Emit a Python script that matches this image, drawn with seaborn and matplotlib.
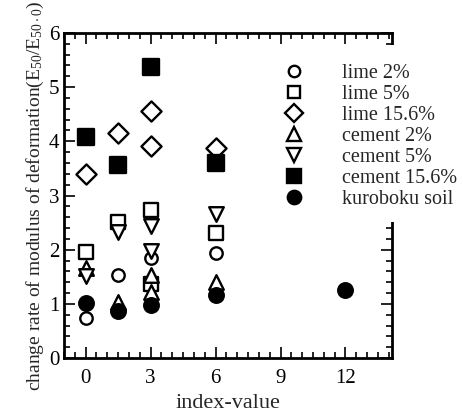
import matplotlib
matplotlib.use("Agg")
import matplotlib.pyplot as plt
from matplotlib.ticker import MultipleLocator
from matplotlib.lines import Line2D
from matplotlib.patches import Rectangle
import seaborn as sns
import pandas as pd

# ---- data ----
lime2_x = [0, 1.5, 3, 6]
lime2_y = [0.74, 1.53, 1.84, 1.93]
lime5_x = [0, 1.5, 3, 3, 6]
lime5_y = [1.96, 2.51, 2.74, 1.36, 2.30]
lime156_x = [0, 1.5, 3, 3, 6]
lime156_y = [3.39, 4.15, 4.56, 3.91, 3.88]
cement2_x = [0, 1.5, 3, 3, 6]
cement2_y = [1.66, 1.04, 1.53, 1.22, 1.40]
cement5_x = [0, 1.5, 3, 3, 6]
cement5_y = [1.52, 2.33, 2.43, 1.98, 2.66]
cement156_x = [0, 1.5, 3, 6]
cement156_y = [4.08, 3.56, 5.37, 3.60]
kuroboku_x = [0, 1.5, 3, 6, 12]
kuroboku_y = [1.01, 0.86, 0.98, 1.16, 1.25]

series_names = ["lime 2%", "lime 5%", "lime 15.6%", "cement 2%",
                "cement 5%", "cement 15.6%", "kuroboku soil"]
xs = [lime2_x, lime5_x, lime156_x, cement2_x, cement5_x, cement156_x, kuroboku_x]
ys = [lime2_y, lime5_y, lime156_y, cement2_y, cement5_y, cement156_y, kuroboku_y]

rows = []
for name, xv, yv in zip(series_names, xs, ys):
    for a, b in zip(xv, yv):
        rows.append({"index": a, "rate": b, "series": name})
df = pd.DataFrame(rows)

# ---- style ----
sns.set_style("ticks")
plt.rcParams["font.family"] = ["Liberation Serif", "DejaVu Serif"]
plt.rcParams["mathtext.fontset"] = "custom"
plt.rcParams["mathtext.rm"] = "Liberation Serif"
plt.rcParams["mathtext.it"] = "Liberation Serif"

marker_map = {"lime 2%": "o", "lime 5%": "s", "lime 15.6%": "D",
              "cement 2%": "^", "cement 5%": "v", "cement 15.6%": "s",
              "kuroboku soil": "o"}
filled = {"cement 15.6%", "kuroboku soil"}
size_map = {"lime 2%": 80, "lime 5%": 95, "lime 15.6%": 105,
            "cement 2%": 110, "cement 5%": 110, "cement 15.6%": 120,
            "kuroboku soil": 110}

fig = plt.figure(figsize=(4.64, 4.15), dpi=100)
ax = fig.add_axes([64 / 464, 1 - 358 / 415, (392 - 64) / 464, (358 - 33) / 415])

handles = []
for name in series_names:
    sub = df[df["series"] == name]
    fc = "black" if name in filled else "white"
    sns.scatterplot(data=sub, x="index", y="rate", ax=ax,
                    marker=marker_map[name], s=size_map[name],
                    facecolor=fc, edgecolor="black", linewidth=1.7,
                    legend=False, zorder=3)
    handles.append(Line2D([], [], linestyle="none", marker=marker_map[name],
                          markersize=(size_map[name] ** 0.5) * 0.92,
                          markerfacecolor=fc, markeredgecolor="black",
                          markeredgewidth=1.7, label=name))

ax.set_xlim(-1, 14.15)
ax.set_ylim(0, 6)
ax.xaxis.set_major_locator(MultipleLocator(3))
ax.xaxis.set_minor_locator(MultipleLocator(0.5))
ax.yaxis.set_major_locator(MultipleLocator(1))
ax.yaxis.set_minor_locator(MultipleLocator(0.2))
ax.tick_params(which="both", direction="in", top=True, right=True,
               colors="black", labelsize=15, width=1.2)
ax.tick_params(which="major", length=8)
ax.tick_params(axis="x", which="major", pad=8)
ax.tick_params(which="minor", length=4)
for sp in ax.spines.values():
    sp.set_linewidth(2)
    sp.set_color("black")

ax.set_xlabel("index-value", fontsize=16, labelpad=4)
ax.set_ylabel(r"change rate of modulus of deformation($\mathregular{E_{50}/E_{50\cdot0}}$)",
              fontsize=14, labelpad=2)

# white area behind the legend (hides the right spine there)
fig.add_artist(Rectangle((372 / 464, 1 - 222 / 415), (464 - 372) / 464, (222 - 45) / 415,
                         transform=fig.transFigure, facecolor="white",
                         edgecolor="none", zorder=2))

leg = fig.legend(handles=handles, loc="upper left",
                 bbox_to_anchor=(284 / 464, 1 - 64 / 415),
                 frameon=False, fontsize=14.5, labelspacing=0.09,
                 handletextpad=1.9, handlelength=1.0, borderpad=0,
                 borderaxespad=0)
leg.set_zorder(5)

fig.savefig("out.png", dpi=100)
